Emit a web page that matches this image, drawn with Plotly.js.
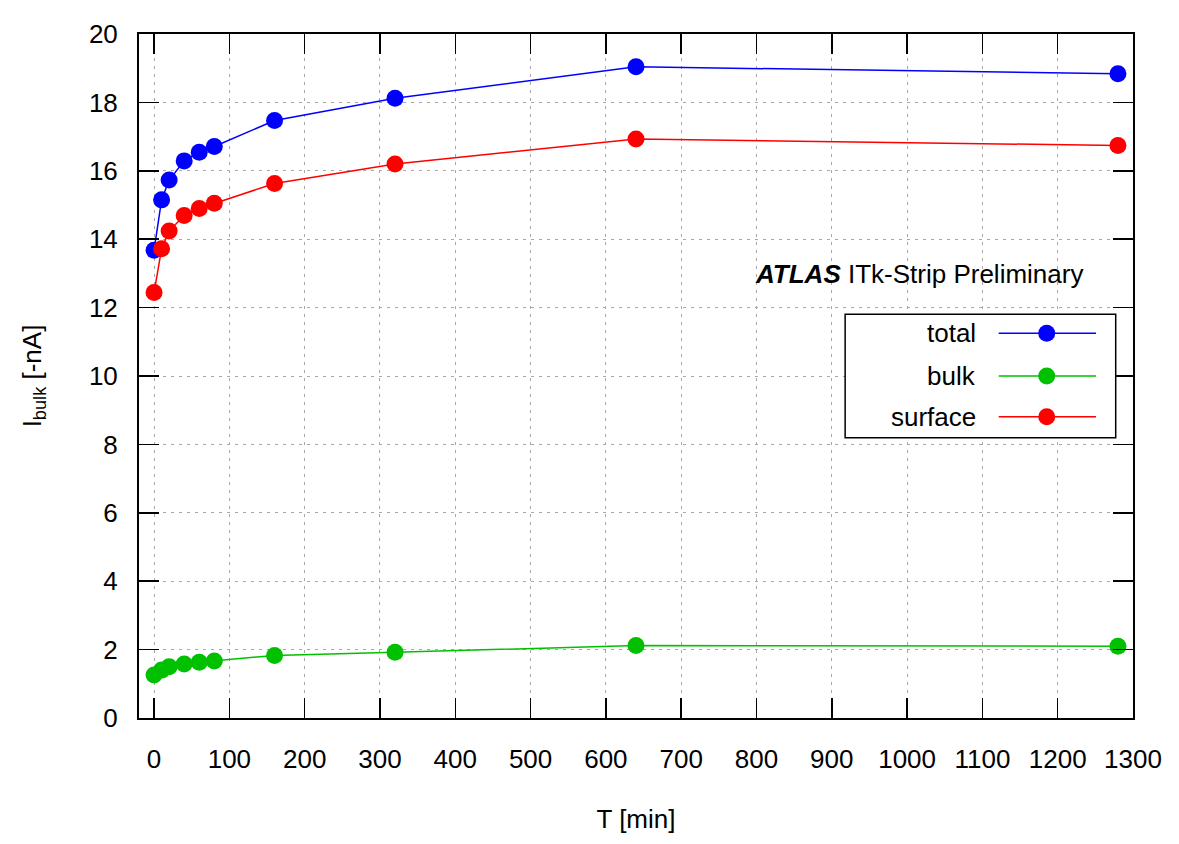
<!DOCTYPE html>
<html>
<head>
<meta charset="utf-8">
<script src="https://cdn.plot.ly/plotly-3.0.1.min.js"></script>
<style>html,body{margin:0;padding:0;background:#fff;}#chart{width:1179px;height:844px;}</style>
</head>
<body>
<div id="chart"></div>
<script>
// ---- data ----
const times   = [0, 10, 20, 40, 60, 80, 160, 320, 640, 1280];
const total   = [13.68, 15.15, 15.73, 16.29, 16.54, 16.71, 17.47, 18.12, 19.04, 18.84];
const bulk    = [1.26, 1.40, 1.50, 1.58, 1.63, 1.67, 1.83, 1.92, 2.12, 2.10];
const surface = [12.44, 13.72, 14.24, 14.69, 14.90, 15.05, 15.63, 16.20, 16.93, 16.74];
const seriesNames = ["total", "bulk", "surface"];
const xTicks = [0,100,200,300,400,500,600,700,800,900,1000,1100,1200,1300];
const yTicks = [0,2,4,6,8,10,12,14,16,18,20];

const colors = {total: "#0000ff", bulk: "#00c000", surface: "#ff0000"};
const FONT = "Arial, 'Liberation Sans', sans-serif";
const FS = 26;
const values = {total: total, bulk: bulk, surface: surface};

const traces = seriesNames.map(n => ({
  x: times, y: values[n], name: n, type: "scatter", mode: "lines+markers",
  line: {color: colors[n], width: 1.5},
  marker: {color: colors[n], size: 17},
  cliponaxis: false
}));

// custom legend (text left of sample, like the reference)
const shapes = [];
const annotations = [];
const lg = {x0: 0.7104, x1: 0.9826, y0: 0.4098, y1: 0.5904};
shapes.push({type: "rect", xref: "paper", yref: "paper", x0: lg.x0, x1: lg.x1, y0: lg.y0, y1: lg.y1,
  line: {color: "#000", width: 1.5}, fillcolor: "#fff", layer: "above"});
const rowY = [0.5626, 0.4999, 0.4404];
seriesNames.forEach((n, i) => {
  const y = rowY[i];
  shapes.push({type: "line", xref: "paper", yref: "paper", x0: 0.8649, x1: 0.9628, y0: y, y1: y,
    line: {color: colors[n], width: 1.5}, layer: "above"});
  shapes.push({type: "circle", xref: "paper", yref: "paper", xsizemode: "pixel", ysizemode: "pixel",
    xanchor: 0.9132, yanchor: y, x0: -8.5, x1: 8.5, y0: -8.5, y1: 8.5,
    fillcolor: colors[n], line: {color: colors[n], width: 0}, layer: "above"});
  annotations.push({xref: "paper", yref: "paper", x: 0.8441, y: y, xanchor: "right", yanchor: "middle",
    text: n, showarrow: false, font: {family: FONT, size: FS, color: "#000"}});
});
annotations.push({xref: "paper", yref: "paper", x: 0.618, y: 0.6496, xanchor: "left", yanchor: "middle",
  text: "<b><i>ATLAS</i></b> ITk-Strip Preliminary", showarrow: false,
  font: {family: FONT, size: 26, color: "#000"}});

const axisCommon = {
  showline: true, linecolor: "#000", linewidth: 2, mirror: "ticks",
  ticks: "inside", ticklen: 20, tickwidth: 1.5, tickcolor: "#000",
  showgrid: true, gridcolor: "#a8a8a8", griddash: "3px,5px", gridwidth: 1,
  zeroline: false, tickfont: {family: FONT, size: FS, color: "#000"}
};

const layout = {
  width: 1179, height: 844,
  margin: {l: 139, r: 46, t: 34, b: 126},
  paper_bgcolor: "#fff", plot_bgcolor: "#fff",
  showlegend: false,
  font: {family: FONT, color: "#000"},
  xaxis: Object.assign({}, axisCommon, {
    range: [-20, 1300], tickvals: xTicks, ticktext: xTicks.map(String),
    ticklabelstandoff: 17,
    title: {text: "T [min]", font: {family: FONT, size: FS, color: "#000"}, standoff: 37}
  }),
  yaxis: Object.assign({}, axisCommon, {
    range: [0, 20], tickvals: yTicks, ticktext: yTicks.map(String),
    ticklabelstandoff: 14,
    title: {text: "I<sub>bulk</sub> [-nA]", font: {family: FONT, size: FS, color: "#000"}, standoff: 40}
  }),
  shapes: shapes,
  annotations: annotations
};

Plotly.newPlot("chart", traces, layout, {displayModeBar: false, staticPlot: true});
</script>
</body>
</html>
